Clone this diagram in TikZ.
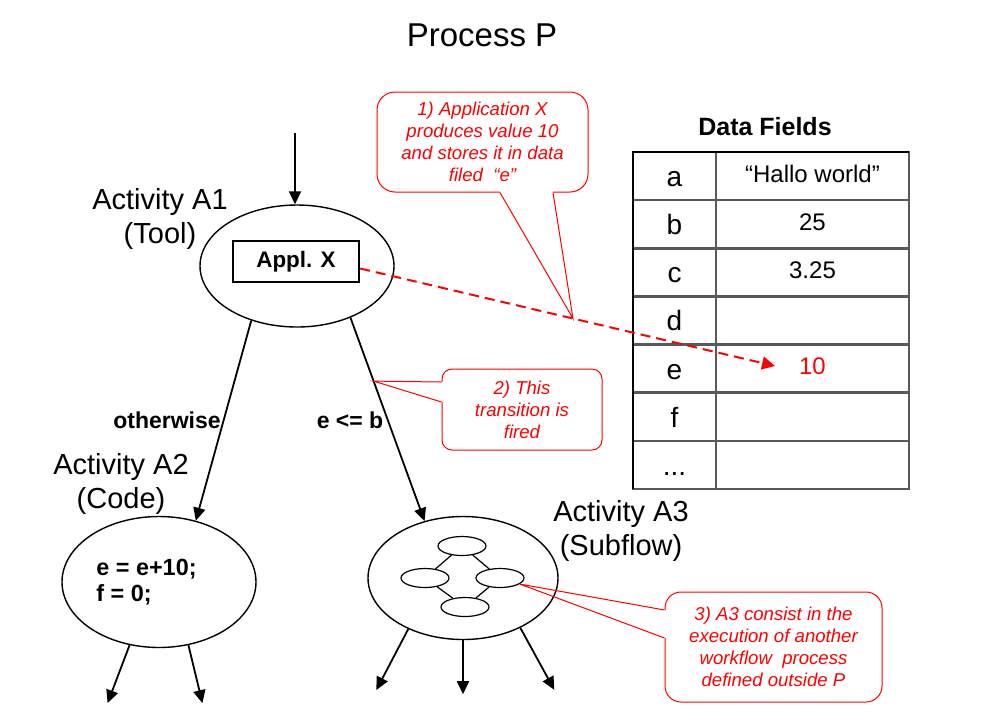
\documentclass[tikz,border=0pt]{standalone}
\usepackage{fontspec}
\setmainfont{Liberation Sans}
\usetikzlibrary{arrows.meta,shapes.geometric,calc}

\newcommand\fielddots{...}
\tikzset{
  flow/.style={-{Triangle[length=6.5pt,width=6pt]},line width=0.9pt},
  activity/.style={draw,ellipse,line width=0.7pt,inner sep=0pt},
  subact/.style={draw,ellipse,line width=0.6pt,minimum width=24pt,minimum height=9.5pt,inner sep=0pt},
  actlabel/.style={align=center,font=\fontsize{14.5}{17}\selectfont},
  cond/.style={font=\bfseries\fontsize{11.5}{13}\selectfont},
  note/.style={draw=red,text=red,line width=0.5pt,rounded corners=9pt,align=center,fill=white,font=\itshape\fontsize{9.3}{11}\selectfont},
  tabline/.style={draw=black!65,line width=1.3pt},
}

\begin{document}
\begin{tikzpicture}[x=0.5pt,y=-0.5pt]
  \useasboundingbox (0,0) rectangle (998,720);
  \node[font=\fontsize{16.5}{19}\selectfont] (title) at (482,35) {Process P};

  % activity A1
  \node[activity,minimum width=97pt,minimum height=61pt] (a1) at (297,266) {};
  \node[draw,line width=1.2pt,minimum width=63pt,minimum height=20.5pt,font=\bfseries\fontsize{11.2}{13}\selectfont] (applx) at (296,261.5) {Appl. X};
  \node[actlabel] (a1lbl) at (160,219) {Activity A1\\(Tool)};
  \coordinate (start) at (295,133);
  \draw[flow] (start) -- (start |- a1.north);

  % activity A2
  \node[activity,minimum width=97pt,minimum height=65.5pt] (a2) at (159,582) {};
  \node[anchor=west,align=left,inner sep=0pt,font=\bfseries\fontsize{11.7}{13}\selectfont] (code) at (96,582) {e = e+10;\\f = 0;};
  \node[actlabel] (a2lbl) at (121,484) {Activity A2\\(Code)};

  % activity A3
  \node[activity,minimum width=95pt,minimum height=61.5pt] (a3) at (463,578) {};
  \node[actlabel] (a3lbl) at (621,531) {Activity A3\\(Subflow)};
  \node[subact] (s1) at (462,546) {};
  \node[subact] (s2) at (425,578) {};
  \node[subact] (s3) at (500,578) {};
  \node[subact] (s4) at (465,607) {};
  \foreach \p/\q in {s1/s2,s1/s3,s2/s4,s3/s4}
    \draw[line width=0.6pt] (\p) -- (\q);

  % transitions
  \draw[flow] (a1.230) -- (a2.59);
  \draw[flow] (a1.316) -- coordinate[pos=0.312] (fired) (a3.124);
  \node[cond] (other) at (167,420) {otherwise};
  \node[cond] (cmp) at (350,420) {e <= b};
  \foreach \ang/\dx/\dy in {245/-22/58,295/14/58}
    \draw[flow] (a2.\ang) -- ++(\dx,\dy);
  \foreach \ang/\dx/\dy in {223/-32/61,270/0/54,319/34/62}
    \draw[flow] (a3.\ang) -- ++(\dx,\dy);

  % data fields
  \node[font=\bfseries\fontsize{12.5}{15}\selectfont] (fields) at (765,127) {Data Fields};
  \foreach \k/\v [count=\i from 0] in {a/{“Hallo world”},b/25,c/3.25,d/,e/{\textcolor{red}{10}},f/,\fielddots/} {
    \draw[tabline] (633,152+48.15*\i) rectangle (716,200.15+48.15*\i);
    \draw[tabline] (716,152+48.15*\i) rectangle (909,200.15+48.15*\i);
    \node[anchor=base,font=\fontsize{14}{16}\selectfont] (key\i) at (674.5,186.5+48.15*\i) {\k};
    \node[anchor=base,font=\fontsize{12}{14}\selectfont] (val\i) at (812.5,182+48.15*\i) {\v};
  }
  \draw[black,line width=1.3pt] (633,489.05) -- (633,152) -- (909,152);

  % data flow
  \coordinate (hit) at (775,366);
  \draw[red,line width=1pt,dash pattern=on 5pt off 3pt,-{Triangle[length=6.5pt,width=6.5pt]}] ([yshift=-3.5pt]applx.east) -- coordinate[pos=0.513] (stored) (hit);

  % notes
  \node[note,minimum width=105.5pt,minimum height=50pt] (note1) at (482.5,142) {1) Application X\\produces value 10\\and stores it in data\\filed \ “e”};
  \coordinate (n1a) at ($(note1.south)+(17.5,0)$);
  \coordinate (n1b) at ($(note1.south)+(70.5,0)$);
  \draw[white,line width=1.2pt] (n1a) -- (n1b);
  \draw[red,line width=0.5pt] (n1a) -- (stored) -- (n1b);

  \node[note,rounded corners=5pt,minimum width=80pt,minimum height=40.5pt] (note2) at (522,409.5) {2) This\\transition is\\fired};
  \coordinate (n2a) at ($(note2.west)+(0,-27.5)$);
  \coordinate (n2b) at ($(note2.west)+(0,-7.5)$);
  \draw[white,line width=1.2pt] (n2a) -- (n2b);
  \draw[red,line width=0.5pt] (n2a) -- (fired) -- (n2b);

  \node[note,rounded corners=8pt,minimum width=108.5pt,minimum height=55pt] (note3) at (773.5,647) {3) A3 consist in the\\execution of another\\workflow \ process\\defined outside P};
  \coordinate (n3a) at ($(note3.west)+(0,-37)$);
  \coordinate (n3b) at ($(note3.west)+(0,-9)$);
  \draw[white,line width=1.2pt] (n3a) -- (n3b);
  \draw[red,line width=0.5pt] (n3a) -- (s3.-17) -- (n3b);
\end{tikzpicture}
\end{document}
